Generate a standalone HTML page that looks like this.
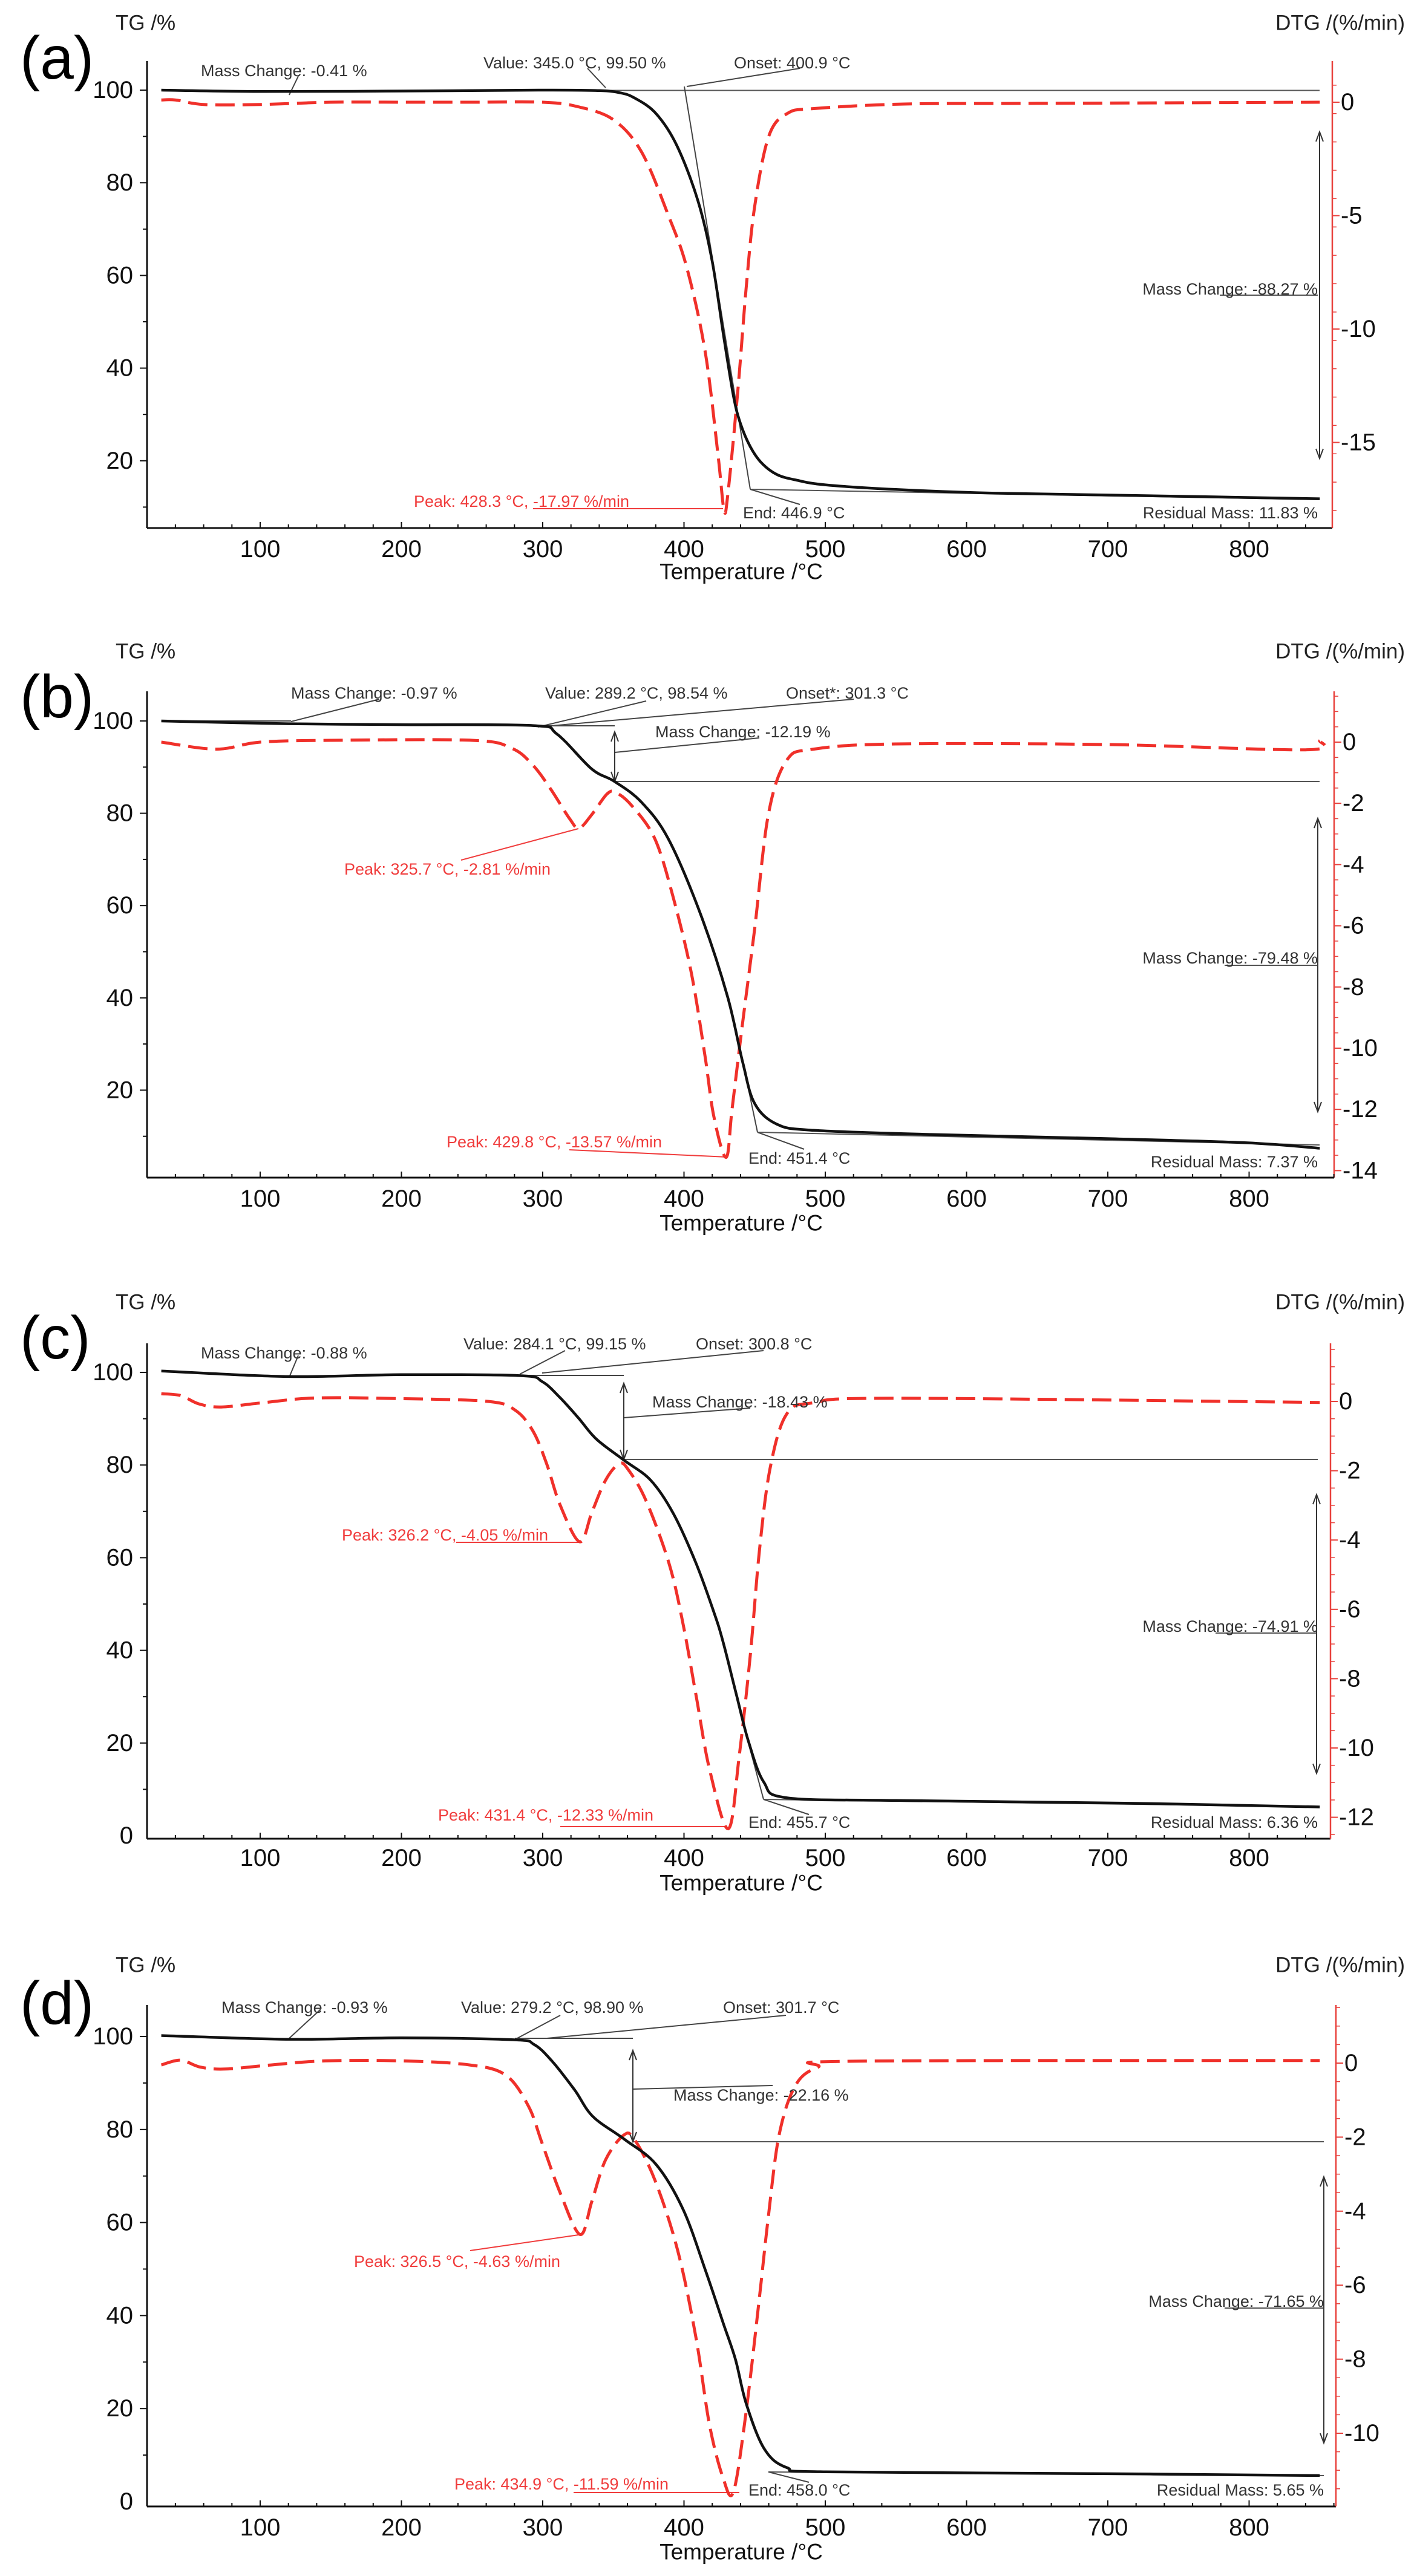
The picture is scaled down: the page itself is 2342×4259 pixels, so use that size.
<!DOCTYPE html>
<html><head><meta charset="utf-8"><style>
html,body{margin:0;padding:0;background:#fff;}
svg{display:block;font-family:"Liberation Sans",Arial,sans-serif;}
</style></head><body>
<svg id="fig" width="2342" height="4259" viewBox="0 0 2342 4259" xmlns="http://www.w3.org/2000/svg">
<rect width="2342" height="4259" fill="#fff"/>
</svg>
<script>
// ---- data ----
const tgTa = [30,100,200,300,340,355,365,380,395,410,420,428,435,440,447,455,466,480,500,550,620,720,850];
const tgVa = [100,99.7,99.8,100,99.9,99.4,98.3,95,88,76,63,47,34,28,23,19.5,17,15.8,14.8,13.8,13,12.5,11.8];
const dtgTa = [30,40,60,100,150,200,250,300,325,350,370,389,402,415,424,428.3,431,438,444,450,460,473,492,556,650,850];
const dtgVa = [0.1,0.1,-0.1,-0.1,0,0,0,0,-0.2,-0.77,-2.2,-5,-7.3,-11,-15.5,-17.97,-17.3,-12.8,-8.2,-4.6,-1.5,-0.5,-0.28,-0.08,-0.05,0];

const tgTb = [30,120,200,293,310,334.7,350.8,369.9,389,411.5,430.7,441.6,450,466,491.6,574.8,699,798,850];
const tgVb = [100,99.4,99.2,99,97.2,89.6,86.9,82.4,74.4,58.3,40.4,26,17.1,12.6,11.3,10.4,9.5,8.6,7.4];
const dtgTb = [30,69,100,150,250,278,293,306,319,325.7,334.7,345.6,352,363.5,379.5,392.3,405,414.7,421,429.8,434,440.6,450,459.7,472.6,491.6,550,700,840,850];
const dtgVb = [0,-0.23,0,0.06,0.06,-0.2,-0.75,-1.56,-2.5,-2.81,-2.37,-1.69,-1.65,-2.1,-3.17,-5.06,-7.5,-10.2,-12.2,-13.57,-12,-9.5,-6.1,-2.37,-0.6,-0.23,-0.06,-0.08,-0.25,0.05];

const tgTc = [30,120,200,283.6,299.6,312.4,325.2,338,357.3,376.5,392.5,408.4,421.2,427.6,437.2,445.5,456.4,472.4,550,716,850];
const tgVc = [100.3,99.1,99.5,99.3,98,94.5,90.2,85.6,81.1,76.7,69.5,58.9,48.2,41.9,30.3,20.5,11.6,8.2,7.6,7.0,6.2];
const dtgTc = [30,43.7,56.5,72.5,101.4,139.7,200,261.2,280.4,293,302.8,312.4,326.2,334.8,344.4,354,360.4,373.2,389.3,398.9,408.5,418,431.4,439,447,453.4,461,472.6,491.6,550,850];
const dtgVc = [0.22,0.17,-0.07,-0.16,-0.04,0.1,0.08,0,-0.25,-0.85,-1.8,-3.0,-4.05,-3.2,-2.28,-1.8,-1.96,-2.87,-4.66,-6.33,-8.47,-10.6,-12.33,-10.26,-7.3,-4.3,-1.92,-0.37,-0.04,0.09,-0.03];

const tgTd = [30,120,200,279.1,293.8,306.6,322.6,335.5,357.8,380.2,399.4,415.4,428.2,436.5,444.1,456.9,472.9,500,700,850];
const tgVd = [100.2,99.4,99.7,99.3,98.3,94.7,88.5,82.8,77.9,72.5,62.8,49.5,38,30.5,21,11.3,7.3,6.4,6.0,5.6];
const dtgTd = [30,43.7,57.8,75.7,107.7,146,200,248.4,274,290,299.6,312.4,326.5,334.8,344.4,357.2,364.9,379.6,395.6,408.4,418,427.6,434.9,443.6,453.2,459.6,467.3,478.8,494.8,520,850];
const dtgVd = [-0.05,0.08,-0.11,-0.16,-0.05,0.06,0.06,-0.05,-0.33,-1.17,-2.17,-3.51,-4.63,-3.73,-2.62,-1.95,-2.06,-3.18,-5.07,-7.4,-9.76,-11.2,-11.59,-9.53,-6.4,-4.18,-1.95,-0.61,-0.11,0.05,0.07];

const xTicks = [100,200,300,400,500,600,700,800];
const tgTicksAB = [20,40,60,80,100];
const tgTicksCD = [0,20,40,60,80,100];
const dtgTicksA = [0,-5,-10,-15];
const dtgTicksB = [0,-2,-4,-6,-8,-10,-12,-14];
const dtgTicksC = [0,-2,-4,-6,-8,-10,-12];
const dtgTicksD = [0,-2,-4,-6,-8,-10];

// ---- drawing ----
const NS = "http://www.w3.org/2000/svg";
const svg = document.getElementById('fig');
const X = t => 430 + (t - 100) * 2.335;
const LEFT = 243;

function mk(tag, attrs, parent) {
  const e = document.createElementNS(NS, tag);
  for (const k in attrs) e.setAttribute(k, attrs[k]);
  (parent || svg).appendChild(e);
  return e;
}
function smoothPath(pts) {
  let d = "M" + pts[0][0].toFixed(1) + "," + pts[0][1].toFixed(1);
  for (let i = 0; i < pts.length - 1; i++) {
    const p0 = pts[Math.max(0, i - 1)], p1 = pts[i], p2 = pts[i + 1], p3 = pts[Math.min(pts.length - 1, i + 2)];
    const c1x = p1[0] + (p2[0] - p0[0]) / 6, c1y = p1[1] + (p2[1] - p0[1]) / 6;
    const c2x = p2[0] - (p3[0] - p1[0]) / 6, c2y = p2[1] - (p3[1] - p1[1]) / 6;
    d += " C" + c1x.toFixed(1) + "," + c1y.toFixed(1) + " " + c2x.toFixed(1) + "," + c2y.toFixed(1) + " " + p2[0].toFixed(1) + "," + p2[1].toFixed(1);
  }
  return d;
}
function txt(g, x, y, s, size, anchor, color, name) {
  const t = mk('text', {x: x, y: y, 'font-size': size, 'text-anchor': anchor || 'start', fill: color || '#222', 'dominant-baseline': 'central'}, g);
  t.textContent = s;
  
  
  return t;
}

function drawPanel(c) {
  const g = mk('g', {});
  
  
  const TY = v => c.tg100 + (100 - v) * c.tgPx;
  const DY = v => c.dtg0 - v * c.dtgPx;

  txt(g, 33, c.labelY, '(' + c.key + ')', 100, 'start', '#000', 'panel-label');
  txt(g, 191, c.titleY, 'TG /%', 35, 'start', '#222', 'left-axis-title');
  txt(g, 2322, c.titleY, 'DTG /(%/min)', 35, 'end', '#222', 'right-axis-title');

  const la = mk('line', {x1: LEFT, y1: c.top, x2: LEFT, y2: c.bottom, stroke: '#111', 'stroke-width': 3}, g);
  
  
  const xa = mk('line', {x1: LEFT, y1: c.bottom, x2: c.right, y2: c.bottom, stroke: '#111', 'stroke-width': 3}, g);
  
  
  const ra = mk('line', {x1: c.right, y1: c.top, x2: c.right, y2: c.bottom, stroke: '#e8413c', 'stroke-width': 2.5}, g);
  
  

  for (let t = 40; t <= 860; t += 20) {
    const xx = X(t);
    if (xx < LEFT || xx > c.right) continue;
    const major = t % 100 === 0;
    mk('line', {x1: xx, y1: c.bottom, x2: xx, y2: c.bottom - (major ? 10 : 6), stroke: '#111', 'stroke-width': 2}, g);
  }
  xTicks.forEach(t => txt(g, X(t), c.tickY, String(t), 40, 'middle', '#111', 'x-tick-label'));
  txt(g, 1225, c.xTitleY, 'Temperature /°C', 37, 'middle', '#111', 'x-axis-title');

  for (let v = 10; v <= 100; v += 10) {
    const y = TY(v);
    if (y > c.bottom || y < c.top) continue;
    mk('line', {x1: LEFT, y1: y, x2: LEFT - (v % 20 === 0 ? 12 : 7), y2: y, stroke: '#111', 'stroke-width': 2}, g);
  }
  c.tgTicks.forEach(v => txt(g, 220, TY(v), String(v), 40, 'end', '#111', 'left-tick-label'));

  const step = c.dtgTicks[0] - c.dtgTicks[1];
  for (let v = 2; v >= c.dtgTicks[c.dtgTicks.length - 1] - step; v -= step / 4) {
    const y = DY(v);
    if (y > c.bottom || y < c.top) continue;
    mk('line', {x1: c.right, y1: y, x2: c.right + 7, y2: y, stroke: '#e8413c', 'stroke-width': 1.5}, g);
  }
  c.dtgTicks.forEach(v => {
    mk('line', {x1: c.right, y1: DY(v), x2: c.right + 12, y2: DY(v), stroke: '#e8413c', 'stroke-width': 2}, g);
    txt(g, c.right + 14, DY(v), String(v), 40, 'start', '#111', 'right-tick-label');
  });

  c.lines.forEach(l => {
    const e = mk('line', {x1: l[0], y1: l[1], x2: l[2], y2: l[3], stroke: l[4] || '#444', 'stroke-width': 2}, g);
    
    
  });
  c.arrows.forEach(a => {
    const e = mk('path', {d: 'M' + a[0] + ',' + a[1] + ' V' + a[2] + ' M' + (a[0] - 6) + ',' + (a[1] + 16) + ' L' + a[0] + ',' + a[1] + ' L' + (a[0] + 6) + ',' + (a[1] + 16) + ' M' + (a[0] - 6) + ',' + (a[2] - 16) + ' L' + a[0] + ',' + a[2] + ' L' + (a[0] + 6) + ',' + (a[2] - 16), stroke: '#333', 'stroke-width': 2, fill: 'none'}, g);
    
    
  });

  const dp = mk('path', {d: smoothPath(c.dtgT.map((t, i) => [X(t), DY(c.dtgV[i])])), fill: 'none', stroke: '#f0302a', 'stroke-width': 5, 'stroke-dasharray': '32 13'}, g);
  
  
  const tp = mk('path', {d: smoothPath(c.tgT.map((t, i) => [X(t), TY(c.tgV[i])])), fill: 'none', stroke: '#111', 'stroke-width': 4.5}, g);
  
  

  c.texts.forEach(t => txt(g, t[0], t[1], t[2], 27, t[3] || 'start', t[4] || '#333', 'annotation-text'));
}

const RED = '#f03c3c';
drawPanel({key: 'a', top: 101, bottom: 873, right: 2202, tg100: 149, tgPx: 7.66, dtg0: 169, dtgPx: 37.5,
  labelY: 96, titleY: 38, tickY: 908, xTitleY: 945,
  tgT: tgTa, tgV: tgVa, dtgT: dtgTa, dtgV: dtgVa, tgTicks: tgTicksAB, dtgTicks: dtgTicksA,
  lines: [[1001,149.5,2181,149.5,'#555'],[478,157,493,126],[1001,145,971,113],[1135,143,1322,113],[1131,143,1240,809],[1240,809,2181,826,'#555'],[1240,809,1322,834],[881,841,1195,841,RED],[2016,488,2178,488,'#555']],
  arrows: [[2181,218,758]],
  texts: [[332,117,'Mass Change: -0.41 %'],[799,104,'Value: 345.0 °C, 99.50 %'],[1213,104,'Onset: 400.9 °C'],[1228,848,'End: 446.9 °C'],[684,829,'Peak: 428.3 °C, -17.97 %/min','start',RED],[2178,478,'Mass Change: -88.27 %','end'],[2178,848,'Residual Mass: 11.83 %','end']]});

drawPanel({key: 'b', top: 1143, bottom: 1947, right: 2205, tg100: 1192, tgPx: 7.63, dtg0: 1227, dtgPx: 50.6,
  labelY: 1152, titleY: 1077, tickY: 1982, xTitleY: 2022,
  tgT: tgTb, tgV: tgVb, dtgT: dtgTb, dtgV: dtgVb, tgTicks: tgTicksAB, dtgTicks: dtgTicksB,
  lines: [[269,1192,481,1192],[481,1193,627,1156],[881,1200,1016,1200],[889,1202,1068,1159],[911,1200,1411,1156],[1016,1244,1255,1220],[1016,1292,2181,1292,'#555'],[956,1370,762,1422,RED],[2024,1596,2178,1596,'#555'],[941,1901,1202,1913,RED],[1225,1743,1252,1872],[1252,1872,2181,1893,'#555'],[1252,1872,1329,1900]],
  arrows: [[1016,1210,1292],[2178,1353,1838]],
  texts: [[481,1146,'Mass Change: -0.97 %'],[901,1146,'Value: 289.2 °C, 98.54 %'],[1299,1146,'Onset*: 301.3 °C'],[1083,1210,'Mass Change: -12.19 %'],[569,1437,'Peak: 325.7 °C, -2.81 %/min','start',RED],[2178,1584,'Mass Change: -79.48 %','end'],[738,1888,'Peak: 429.8 °C, -13.57 %/min','start',RED],[1237,1915,'End: 451.4 °C'],[2178,1921,'Residual Mass: 7.37 %','end']]});

drawPanel({key: 'c', top: 2221, bottom: 3040, right: 2199, tg100: 2269, tgPx: 7.66, dtg0: 2317, dtgPx: 57.3,
  labelY: 2212, titleY: 2153, tickY: 3072, xTitleY: 3113,
  tgT: tgTc, tgV: tgVc, dtgT: dtgTc, dtgV: dtgVc, tgTicks: tgTicksCD, dtgTicks: dtgTicksC,
  lines: [[478,2277,493,2241],[851,2274,1031,2274],[859,2272,934,2233],[896,2270,1262,2233],[1031,2344,1240,2328],[1031,2413,2178,2413,'#555'],[754,2550,956,2550,RED],[2009,2700,2176,2700,'#555'],[926,3020,1202,3020,RED],[1225,2837,1262,2975],[1262,2975,2178,2987,'#555'],[1262,2975,1337,3000]],
  arrows: [[1031,2287,2413],[2176,2471,2932]],
  texts: [[332,2237,'Mass Change: -0.88 %'],[766,2222,'Value: 284.1 °C, 99.15 %'],[1150,2222,'Onset: 300.8 °C'],[1078,2318,'Mass Change: -18.43 %'],[565,2538,'Peak: 326.2 °C, -4.05 %/min','start',RED],[2178,2689,'Mass Change: -74.91 %','end'],[724,3001,'Peak: 431.4 °C, -12.33 %/min','start',RED],[1237,3013,'End: 455.7 °C'],[2178,3013,'Residual Mass: 6.36 %','end']]});

drawPanel({key: 'd', top: 3315, bottom: 4144, right: 2208, tg100: 3367, tgPx: 7.69, dtg0: 3411, dtgPx: 61.2,
  labelY: 3312, titleY: 3249, tickY: 4179, xTitleY: 4219,
  tgT: tgTd, tgV: tgVd, dtgT: dtgTd, dtgV: dtgVd, tgTicks: tgTicksCD, dtgTicks: dtgTicksD,
  lines: [[478,3370,530,3322],[851,3370,1046,3370],[851,3372,926,3332],[904,3370,1299,3332],[1046,3454,1277,3448],[1046,3541,2188,3541,'#555'],[963,3694,777,3721,RED],[2024,3816,2188,3816,'#555'],[948,4121,1222,4121,RED],[1270,4087,2188,4093,'#555'],[1270,4087,1337,4104]],
  arrows: [[1046,3390,3541],[2188,3599,4039]],
  texts: [[366,3319,'Mass Change: -0.93 %'],[762,3319,'Value: 279.2 °C, 98.90 %'],[1195,3319,'Onset: 301.7 °C'],[1113,3464,'Mass Change: -22.16 %'],[585,3739,'Peak: 326.5 °C, -4.63 %/min','start',RED],[2188,3805,'Mass Change: -71.65 %','end'],[751,4107,'Peak: 434.9 °C, -11.59 %/min','start',RED],[1237,4117,'End: 458.0 °C'],[2188,4117,'Residual Mass: 5.65 %','end']]});
</script>
</body></html>
